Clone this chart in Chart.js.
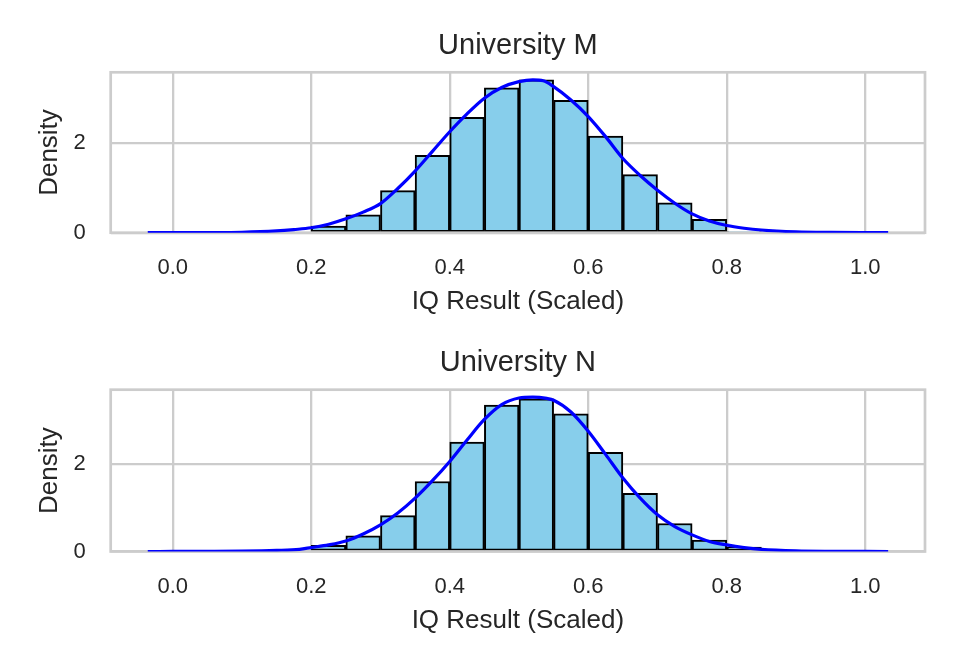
<!DOCTYPE html>
<html>
<head>
<meta charset="utf-8">
<script src="https://cdn.jsdelivr.net/npm/chart.js@4.4.1/dist/chart.umd.min.js"></script>
<style>
  html, body { margin: 0; padding: 0; background: #ffffff; }
  #wrap { position: relative; width: 960px; height: 672px; background: #ffffff; }
  canvas { position: absolute; left: 0; }
</style>
</head>
<body>
<div id="wrap">
  <canvas id="c1" width="960" height="336" style="top:0px"></canvas>
  <canvas id="c2" width="960" height="336" style="top:336px"></canvas>
</div>
<script>
// ---------------- data ----------------
const titles = ["University M", "University N"];
const xAxisLabel = "IQ Result (Scaled)";
const yAxisLabel = "Density";
const xTickValues = [0.0, 0.2, 0.4, 0.6, 0.8, 1.0];
const yTickValues = [0, 2];

// histogram bin left edges (bin width 0.05)
const binEdgesM = [0.20, 0.25, 0.30, 0.35, 0.40, 0.45, 0.50, 0.55, 0.60, 0.65, 0.70, 0.75, 0.80];
const densityM  = [0.15, 0.40, 0.94, 1.73, 2.58, 3.24, 3.42, 2.96, 2.16, 1.30, 0.67, 0.30, 0.02];
const binEdgesN = [0.20, 0.25, 0.30, 0.35, 0.40, 0.45, 0.50, 0.55, 0.60, 0.65, 0.70, 0.75, 0.80];
const densityN  = [0.14, 0.36, 0.82, 1.60, 2.50, 3.35, 3.49, 3.15, 2.27, 1.33, 0.64, 0.26, 0.10];
const binWidth = 0.05;

// KDE curves
const kdeXM = [-0.036, 0.0, 0.05, 0.10, 0.15, 0.175, 0.20, 0.225, 0.25, 0.275, 0.30, 0.325, 0.35, 0.375, 0.40, 0.425, 0.45, 0.475, 0.50, 0.52, 0.535, 0.55, 0.575, 0.60, 0.625, 0.65, 0.675, 0.70, 0.725, 0.75, 0.775, 0.80, 0.825, 0.85, 0.90, 0.95, 1.00, 1.033];
const kdeYM = [0, 0.001, 0.003, 0.010, 0.040, 0.070, 0.11, 0.19, 0.31, 0.46, 0.65, 0.99, 1.38, 1.82, 2.26, 2.66, 3.01, 3.25, 3.38, 3.42, 3.40, 3.27, 2.97, 2.60, 2.15, 1.66, 1.28, 0.95, 0.66, 0.42, 0.26, 0.16, 0.10, 0.06, 0.02, 0.006, 0.001, 0];
const kdeXN = [-0.036, 0.0, 0.05, 0.10, 0.15, 0.183, 0.20, 0.225, 0.25, 0.275, 0.30, 0.325, 0.35, 0.375, 0.40, 0.425, 0.45, 0.475, 0.50, 0.52, 0.54, 0.55, 0.575, 0.60, 0.625, 0.65, 0.675, 0.70, 0.725, 0.75, 0.775, 0.80, 0.825, 0.85, 0.90, 0.95, 1.00, 1.033];
const kdeYN = [0, 0.001, 0.003, 0.008, 0.025, 0.05, 0.09, 0.15, 0.24, 0.40, 0.61, 0.88, 1.22, 1.62, 2.06, 2.55, 3.02, 3.36, 3.51, 3.53, 3.50, 3.46, 3.19, 2.75, 2.22, 1.68, 1.22, 0.84, 0.57, 0.38, 0.23, 0.15, 0.09, 0.05, 0.015, 0.004, 0.001, 0];

const xMin = -0.0895, xMax = 1.0862;
const yMaxM = 3.59, yMaxN = 3.70;

// ---------------- styling ----------------
const FONT = "'Liberation Sans', Arial, Helvetica, sans-serif";
const TEXT = "#262626";
const GRID = "#cccccc";

// frame drawn over the bars but under the KDE line
const framePlugin = {
  id: 'frame',
  afterDatasetDraw(chart, args) {
    if (args.meta.type !== 'bar') return;
    const a = chart.chartArea, ctx = chart.ctx;
    ctx.save();
    ctx.strokeStyle = GRID;
    ctx.lineWidth = 2.7;
    ctx.strokeRect(a.left, a.top, a.right - a.left, a.bottom - a.top);
    ctx.restore();
  }
};

function makeChart(id, title, edges, dens, kx, ky, yMax, L) {
  const bars = edges.map((e, i) => ({ x: e + binWidth / 2, y: dens[i] }));
  const kde = kx.map((x, i) => ({ x: x, y: ky[i] }));
  const xAxisH = 336 - L.areaBottom;
  return new Chart(document.getElementById(id), {
    type: 'bar',
    data: {
      datasets: [
        {
          type: 'line', data: kde, order: 0,
          borderColor: '#0000ff', borderWidth: 3.2, pointRadius: 0,
          cubicInterpolationMode: 'monotone', fill: false
        },
        {
          type: 'bar', data: bars, order: 1,
          backgroundColor: '#87ceeb', borderColor: '#000000', borderWidth: 2,
          borderSkipped: false, barPercentage: 1.0, categoryPercentage: 1.0
        }
      ]
    },
    options: {
      responsive: false,
      animation: false,
      events: [],
      layout: { padding: { left: 0, right: 35, top: 0, bottom: 0 } },
      plugins: {
        legend: { display: false },
        tooltip: { enabled: false },
        title: {
          display: true, text: title, color: TEXT, fullSize: false,
          font: { family: FONT, size: 29, weight: 'normal', lineHeight: 1.2 },
          padding: { top: L.titleCenter - 17.4, bottom: L.areaTop - (L.titleCenter - 17.4) - 34.8 }
        }
      },
      scales: {
        x: {
          type: 'linear', min: xMin, max: xMax, offset: false,
          afterBuildTicks(s) { s.ticks = xTickValues.map(v => ({ value: v })); },
          afterFit(s) { s.height = xAxisH; },
          grid: { color: GRID, lineWidth: 2.3, drawTicks: false, offset: false },
          border: { display: false },
          ticks: {
            color: TEXT, padding: 21.8, maxRotation: 0, autoSkip: false,
            font: { family: FONT, size: 22, lineHeight: 1.2 },
            callback: v => Number(v).toFixed(1)
          },
          title: {
            display: true, text: xAxisLabel, color: TEXT,
            font: { family: FONT, size: 26, lineHeight: 1.2 },
            padding: { top: 0, bottom: xAxisH - 69 - 15.6 }
          }
        },
        y: {
          type: 'linear', min: 0, max: yMax,
          afterBuildTicks(s) { s.ticks = yTickValues.map(v => ({ value: v })); },
          afterFit(s) { s.width = 110.7; },
          grid: { color: GRID, lineWidth: 2.3, drawTicks: false },
          border: { display: false },
          ticks: {
            color: TEXT, padding: 25,
            font: { family: FONT, size: 22, lineHeight: 1.2 },
            callback: v => String(v)
          },
          title: {
            display: true, text: yAxisLabel, color: TEXT,
            font: { family: FONT, size: 26, lineHeight: 1.2 },
            padding: { top: 34.4, bottom: 0 }
          }
        }
      }
    },
    plugins: [framePlugin]
  });
}

makeChart('c1', titles[0], binEdgesM, densityM, kdeXM, kdeYM, yMaxM,
  { areaTop: 72.3, areaBottom: 232.7, titleCenter: 45.5 });
makeChart('c2', titles[1], binEdgesN, densityN, kdeXN, kdeYN, yMaxN,
  { areaTop: 53.7, areaBottom: 215.5, titleCenter: 27.3 });
</script>
</body>
</html>
